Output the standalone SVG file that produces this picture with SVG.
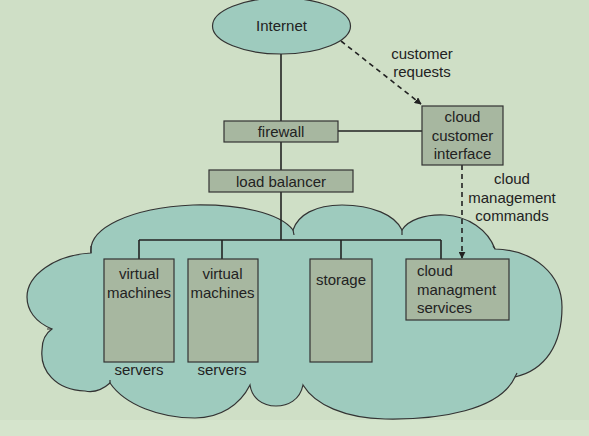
<svg xmlns="http://www.w3.org/2000/svg" width="589" height="436" viewBox="0 0 589 436">
<defs>
<style>
.t{font-family:"Liberation Sans",Arial,sans-serif;font-size:15px;fill:#222;}
.m{text-anchor:middle;}
.box{fill:#a7b7a0;stroke:#333;stroke-width:1.2;}
.ln{stroke:#222;stroke-width:1.6;fill:none;}
.dash{stroke:#222;stroke-width:1.6;fill:none;stroke-dasharray:5,4;}
</style>
<marker id="ah" viewBox="0 0 10 10" refX="9" refY="5" markerWidth="7" markerHeight="7" orient="auto" markerUnits="userSpaceOnUse">
<path d="M0,0 L10,5 L0,10 Z" fill="#222"/>
</marker>
</defs>
<rect x="0" y="0" width="589" height="436" fill="#cfdfc6"/>
<rect x="0" y="420" width="589" height="16" fill="#d5e4cc"/>

<g id="cloud">
<path d="M91,253 C88,228 130,208 193,205 C240,204 280,213 293,230 C298,215 315,205 342,205 C372,205 395,215 402,230 C408,220 425,214 445,215 C468,216 488,230 495,249 C535,250 562,275 562,307 C562,345 545,370 515,377 C500,410 440,420 385,419 C345,418 315,405 303,385 C300,400 288,406 276,406 C262,406 252,398 250,385 C240,405 220,418 195,418 C160,418 125,405 110,383 C100,392 90,392 85,391 C55,390 40,370 42,350 C42,340 46,333 52,329 C35,322 27,310 27,297 C27,275 55,255 91,253 Z" fill="#9ecbbe" stroke="#333" stroke-width="1.2"/>
<path d="M91,253 L91,246 M293,230 L294,235 M402,230 L402,235 M495,249 L493,246 M515,377 L517,373 M52,329 L47,329 M110,383 L110,380" stroke="#333" stroke-width="1.2" fill="none"/>
</g>

<g id="connectors">
<line class="ln" x1="281" y1="54" x2="281" y2="121"/>
<line class="ln" x1="281" y1="142" x2="281" y2="170"/>
<line class="ln" x1="281" y1="192" x2="281" y2="240"/>
<line class="ln" x1="338" y1="131" x2="422" y2="131"/>
<line class="ln" x1="139" y1="240" x2="441" y2="240"/>
<line class="ln" x1="139" y1="240" x2="139" y2="259"/>
<line class="ln" x1="222" y1="240" x2="222" y2="259"/>
<line class="ln" x1="341" y1="240" x2="341" y2="259"/>
<line class="ln" x1="441" y1="240" x2="441" y2="259"/>
<line class="dash" x1="341" y1="41" x2="421" y2="104" marker-end="url(#ah)"/>
<line class="dash" x1="462" y1="165" x2="462" y2="258" marker-end="url(#ah)"/>
<text class="t m" x="422" y="59">customer</text>
<text class="t m" x="422" y="77">requests</text>
<text class="t m" x="512" y="184">cloud</text>
<text class="t m" x="512" y="203">management</text>
<text class="t m" x="512" y="221">commands</text>
</g>

<g id="internet">
<ellipse cx="281.5" cy="26" rx="69" ry="28" fill="#9ecbbe" stroke="#333" stroke-width="1.2"/>
<text class="t m" x="281.5" y="31">Internet</text>
</g>

<g id="firewall">
<rect class="box" x="224" y="121" width="114" height="21"/>
<text class="t m" x="281" y="136.5">firewall</text>
</g>

<g id="load-balancer">
<rect class="box" x="209" y="170" width="144" height="22"/>
<text class="t m" x="281" y="186.5">load balancer</text>
</g>

<g id="cloud-customer-interface">
<rect class="box" x="422" y="106" width="81" height="59"/>
<text class="t m" x="462.5" y="122">cloud</text>
<text class="t m" x="462.5" y="140.5">customer</text>
<text class="t m" x="462.5" y="158.5">interface</text>
</g>

<g id="server1">
<rect class="box" x="104" y="259" width="70" height="103"/>
<text class="t m" x="139" y="279">virtual</text>
<text class="t m" x="139" y="298">machines</text>
<text class="t m" x="139" y="375">servers</text>
</g>

<g id="server2">
<rect class="box" x="188" y="259" width="70" height="103"/>
<text class="t m" x="222.5" y="279">virtual</text>
<text class="t m" x="222.5" y="298">machines</text>
<text class="t m" x="222" y="375">servers</text>
</g>

<g id="storage">
<rect class="box" x="310" y="259" width="62" height="103"/>
<text class="t m" x="341" y="284.5">storage</text>
</g>

<g id="cloud-management-services">
<rect class="box" x="406" y="259" width="103" height="61"/>
<text class="t" x="417" y="276">cloud</text>
<text class="t" x="417" y="295">managment</text>
<text class="t" x="417" y="313">services</text>
</g>
</svg>
